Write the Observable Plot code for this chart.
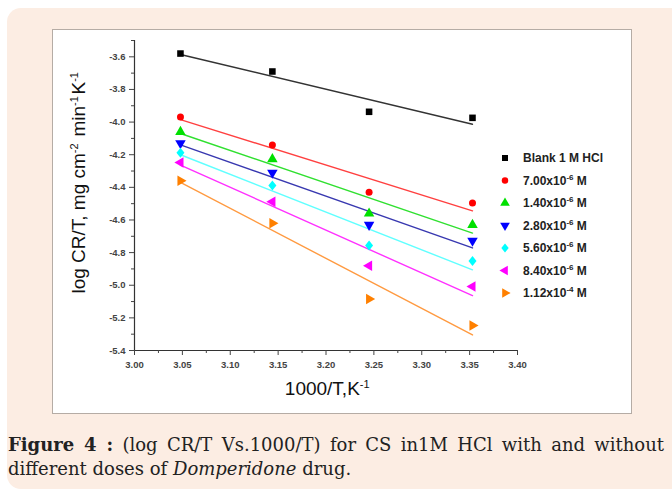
<!DOCTYPE html>
<html><head><meta charset="utf-8">
<script src="https://cdn.jsdelivr.net/npm/d3@7"></script>
<script src="https://cdn.jsdelivr.net/npm/@observablehq/plot@0.6"></script>
<style>
html,body{margin:0;padding:0;background:#fff;width:672px;height:495px;overflow:hidden;position:relative}
#box{position:absolute;left:7px;top:8px;width:700px;height:481px;background:#fcede3;border-radius:14px 0 0 14px;}
#panel{position:absolute;left:52px;top:29px;width:578px;height:383px;background:#fff;border:1px solid #b5aca5;}
#panel svg{display:block}
#cap{position:absolute;left:8px;top:433px;width:656px;font-family:"DejaVu Serif",serif;font-size:18px;line-height:24px;text-align:justify;text-align-last:left;color:#222}
</style></head>
<body>
<div id="box"></div>
<div id="panel"></div>
<div id="cap"><b>Figure 4 :</b> <span>(log CR/T Vs.1000/T) for CS in1M HCl with and without</span> <span>different doses of</span> <i>Domperidone</i> <span>drug.</span></div>
<script>
// ---- data ----
const invT = [3.048, 3.144, 3.245, 3.353];
const seriesNames = ["Blank 1 M HCl", "7.00x10-6 M", "1.40x10-6 M", "2.80x10-6 M", "5.60x10-6 M", "8.40x10-6 M", "1.12x10-4 M"];
const legendBase = ["Blank 1 M HCl", "7.00x10", "1.40x10", "2.80x10", "5.60x10", "8.40x10", "1.12x10"];
const legendExp = [null, "-6", "-6", "-6", "-6", "-6", "-4"];
const blank  = [-3.580, -3.690, -3.937, -3.974];
const c700e6 = [-3.969, -4.140, -4.430, -4.496];
const c140e5 = [-4.060, -4.227, -4.560, -4.630];
const c280e5 = [-4.130, -4.310, -4.630, -4.727];
const c560e5 = [-4.188, -4.388, -4.757, -4.851];
const c840e5 = [-4.247, -4.488, -4.880, -5.008];
const c112e4 = [-4.360, -4.620, -5.084, -5.247];
const seriesValues = [blank, c700e6, c140e5, c280e5, c560e5, c840e5, c112e4];
const xDomain = [3.0, 3.4];
const yDomain = [-5.4, -3.5];
const xMajor = [3.00, 3.05, 3.10, 3.15, 3.20, 3.25, 3.30, 3.35, 3.40];
const xMinor = [3.025, 3.075, 3.125, 3.175, 3.225, 3.275, 3.325, 3.375];
const yMajor = [-3.6, -3.8, -4.0, -4.2, -4.4, -4.6, -4.8, -5.0, -5.2, -5.4];
const yMinor = [-3.5, -3.7, -3.9, -4.1, -4.3, -4.5, -4.7, -4.9, -5.1, -5.3];

// ---- styles ----
const markerColors = ["#000000", "#ff0000", "#00e000", "#0000ff", "#00ffff", "#ff00ff", "#ff8000"];
const lineColors = ["#333333", "#ff4040", "#30e030", "#3838b0", "#60ffff", "#ff30ff", "#ff9a40"];

function triangle(angle) {
  const a = angle * Math.PI / 180, c = Math.cos(a), s = Math.sin(a);
  return {draw(ctx, size) {
    const y = -Math.sqrt(size / (Math.sqrt(3) * 3));
    const pts = [[0, y * 2], [-Math.sqrt(3) * y, -y], [Math.sqrt(3) * y, -y]]
      .map(([px, py]) => [px * c - py * s, px * s + py * c]);
    ctx.moveTo(pts[0][0], pts[0][1]);
    ctx.lineTo(pts[1][0], pts[1][1]);
    ctx.lineTo(pts[2][0], pts[2][1]);
    ctx.closePath();
  }};
}
const diamondSym = {draw(ctx, size) {
  const r = Math.sqrt(size / 2) * 0.95;
  ctx.moveTo(0, -r); ctx.lineTo(r * 0.8, 0); ctx.lineTo(0, r); ctx.lineTo(-r * 0.8, 0); ctx.closePath();
}};
const symbols = [d3.symbolSquare, d3.symbolCircle, triangle(0), triangle(180), diamondSym, triangle(-90), triangle(90)];
const radii = [3.7, 3.5, 3.9, 3.9, 4.2, 3.9, 3.9];

const rows = [];
seriesNames.forEach((name, i) => seriesValues[i].forEach((v, j) => rows.push({series: name, x: invT[j], y: v})));

const marks = [
  Plot.ruleX([xDomain[0]], {y1: yDomain[0], y2: yDomain[1], stroke: "#333", strokeWidth: 1.2}),
  Plot.ruleY([yDomain[0]], {x1: xDomain[0], x2: xDomain[1], stroke: "#333", strokeWidth: 1.2}),
  Plot.axisX({ticks: xMajor, tickSize: 5, tickPadding: 6, tickFormat: d => d.toFixed(2), label: null}),
  Plot.axisX({ticks: xMinor, tickSize: 3, tickFormat: () => "", label: null}),
  Plot.axisY({ticks: yMajor, tickSize: 5, tickPadding: 4, tickFormat: d => d.toFixed(1), label: null}),
  Plot.axisY({ticks: yMinor, tickSize: 3, tickFormat: () => "", label: null})
];
seriesNames.forEach((name, i) => {
  const d = rows.filter(r => r.series === name);
  marks.push(Plot.linearRegressionY(d, {x: "x", y: "y", stroke: lineColors[i], strokeWidth: 1.4, ci: 0}));
});
seriesNames.forEach((name, i) => {
  const d = rows.filter(r => r.series === name);
  marks.push(Plot.dot(d, {x: "x", y: "y", symbol: symbols[i], r: radii[i], fill: markerColors[i], stroke: "none"}));
});

const plot = Plot.plot({
  width: 578, height: 383,
  marginLeft: 81, marginRight: 114, marginTop: 10, marginBottom: 63,
  x: {domain: xDomain},
  y: {domain: yDomain},
  style: {fontFamily: "'Liberation Sans', Arial, sans-serif", fontSize: "9.5px", fontWeight: "bold", color: "#444", background: "transparent"},
  marks
});
document.getElementById("panel").appendChild(plot);

const svg = d3.select(plot);
// axis labels
const yl = svg.append("text")
  .attr("transform", "translate(32,152) rotate(-90)")
  .attr("text-anchor", "middle")
  .style("font", "19px 'Liberation Sans', Arial, sans-serif").attr("fill", "#111");
const supParts = (sel, parts) => parts.forEach(([t, sup]) => {
  if (sup) {
    sel.append("tspan").attr("dy", -7).style("font-size", "11px").text(t);
    sel.append("tspan").attr("dy", 7).text("\u200A");
  } else sel.append("tspan").text(t);
});
supParts(yl, [["log CR/T, mg cm", 0], ["-2", 1], [" min", 0], ["-1", 1], ["K", 0], ["-1", 1]]);
const xl = svg.append("text")
  .attr("x", 275).attr("y", 365).attr("text-anchor", "middle")
  .style("font", "19px 'Liberation Sans', Arial, sans-serif").attr("fill", "#111");
supParts(xl, [["1000/T,K", 0], ["-1", 1]]);

// legend
const lg = svg.append("g").attr("text-anchor", "start");
seriesNames.forEach((name, i) => {
  const cy = 128 + i * 22.5;
  lg.append("path")
    .attr("transform", `translate(452,${cy})`)
    .attr("d", d3.symbol(symbols[i], Math.PI * radii[i] * radii[i] * 0.85)())
    .attr("fill", markerColors[i]);
  const t = lg.append("text").attr("x", 470).attr("y", cy).attr("dy", "0.36em").attr("text-anchor", "start")
    .style("font", "bold 12px 'Liberation Sans', Arial, sans-serif").attr("fill", "#222");
  t.append("tspan").text(legendBase[i]);
  if (legendExp[i]) {
    t.append("tspan").attr("dy", -5).style("font-size", "8px").text(legendExp[i]);
    t.append("tspan").attr("dy", 5).text(" M");
  }
});
</script>
</body></html>
